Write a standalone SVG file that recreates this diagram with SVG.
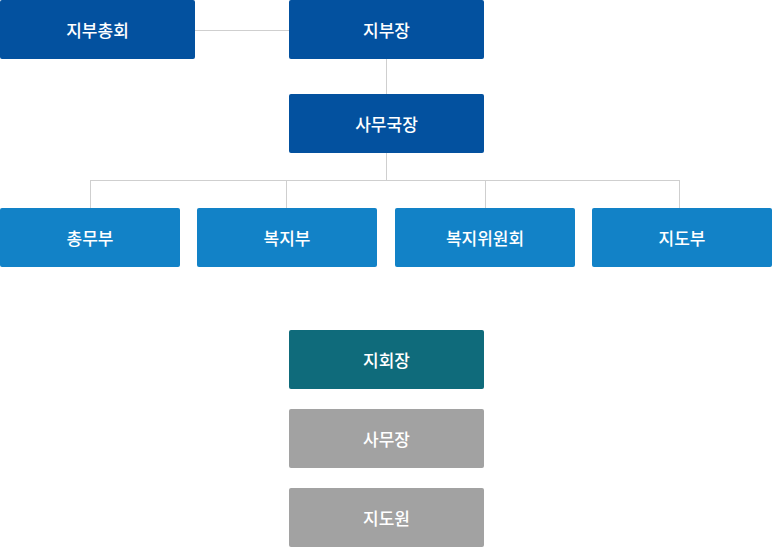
<svg xmlns="http://www.w3.org/2000/svg" width="772" height="547" viewBox="0 0 772 547">
<style>
.dk{fill:#03519f}
.lt{fill:#1282c7}
.tl{fill:#0f6b7b}
.gy{fill:#a2a2a2}
text{font-family:"Noto Sans CJK KR","Noto Sans",sans-serif;font-size:17px;font-weight:500;fill:#fff;text-anchor:middle;dominant-baseline:central}
.ln{stroke:#cfcfcf;stroke-width:1;fill:none}
</style>
<g id="connectors">
<path class="ln" d="M195,30.5H289"/>
<path class="ln" d="M386.5,58V94"/>
<path class="ln" d="M386.5,153V180.5"/>
<path class="ln" d="M90.5,180.5H679.5"/>
<path class="ln" d="M90.5,180V208M286.5,180V208M485.5,180V208M679.5,180V208"/>
</g>
<g id="n1"><rect class="dk" x="0" y="0" width="195" height="59" rx="2"/><text x="97.5" y="29.5">지부총회</text></g>
<g id="n2"><rect class="dk" x="289" y="0" width="195" height="59" rx="2"/><text x="386.5" y="29.5">지부장</text></g>
<g id="n3"><rect class="dk" x="289" y="94" width="195" height="59" rx="2"/><text x="386.5" y="123.5">사무국장</text></g>
<g id="n4"><rect class="lt" x="0" y="208" width="180" height="59" rx="2"/><text x="90" y="237.5">총무부</text></g>
<g id="n5"><rect class="lt" x="197" y="208" width="180" height="59" rx="2"/><text x="287" y="237.5">복지부</text></g>
<g id="n6"><rect class="lt" x="395" y="208" width="180" height="59" rx="2"/><text x="485" y="237.5">복지위원회</text></g>
<g id="n7"><rect class="lt" x="592" y="208" width="180" height="59" rx="2"/><text x="682" y="237.5">지도부</text></g>
<g id="n8"><rect class="tl" x="289" y="330" width="195" height="59" rx="2"/><text x="386.5" y="359.5">지회장</text></g>
<g id="n9"><rect class="gy" x="289" y="409" width="195" height="59" rx="2"/><text x="386.5" y="438.5">사무장</text></g>
<g id="n10"><rect class="gy" x="289" y="488" width="195" height="59" rx="2"/><text x="386.5" y="517.5">지도원</text></g>
</svg>
